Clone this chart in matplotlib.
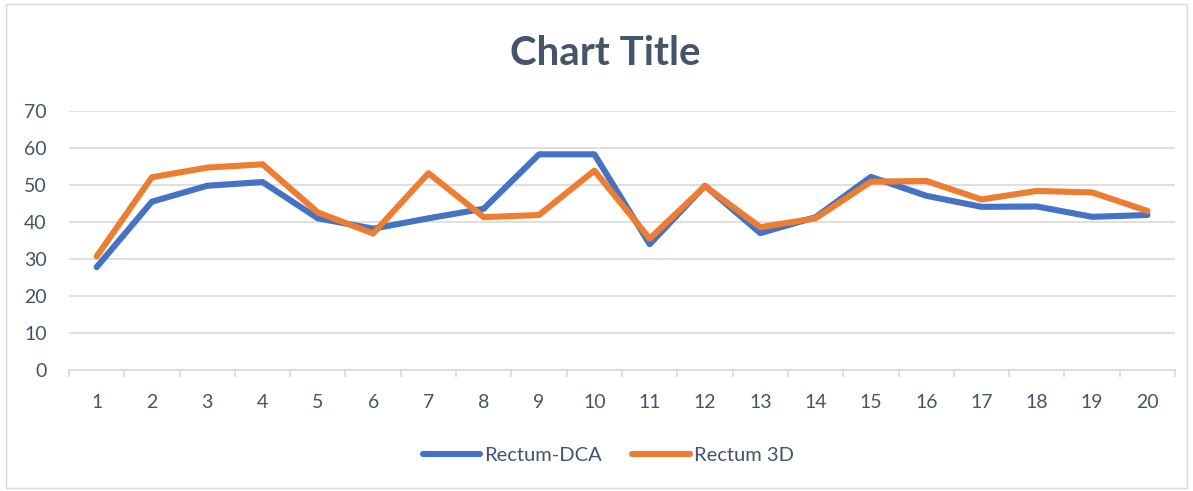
import matplotlib
matplotlib.use('Agg')
import matplotlib.pyplot as plt
from matplotlib.patches import Rectangle
import numpy as np

plt.rcParams['font.family'] = ['Lato', 'DejaVu Sans']

# data
categories = list(range(1, 21))
rectum_dca = [27.8, 45.5, 49.8, 50.8, 41.0, 38.2, 41.0, 43.6, 58.3, 58.3,
              34.0, 49.8, 37.0, 41.3, 52.2, 47.1, 44.1, 44.2, 41.4, 41.9]
rectum_3d = [30.7, 52.1, 54.7, 55.6, 42.6, 36.9, 53.2, 41.3, 41.9, 53.9,
             35.5, 49.7, 38.6, 41.0, 50.9, 51.1, 46.1, 48.4, 48.0, 43.0]
series_labels = ['Rectum-DCA', 'Rectum 3D']
y_ticks = [0, 10, 20, 30, 40, 50, 60, 70]

TEXT = '#44546A'
GRID = '#D9D9D9'

fig = plt.figure(figsize=(11.93, 4.91), dpi=100)
ax = fig.add_axes([0.0578, 0.2464, 0.9272, 0.5275])

x = np.arange(1, len(categories) + 1)
ax.plot(x, rectum_dca, color='#4472C4', lw=4.4, label=series_labels[0],
        solid_joinstyle='round', solid_capstyle='round', zorder=3)
ax.plot(x, rectum_3d, color='#ED7D31', lw=4.4, label=series_labels[1],
        solid_joinstyle='round', solid_capstyle='round', zorder=4)

ax.set_xlim(0.5, len(categories) + 0.5)
ax.set_ylim(0, 70)
ax.set_yticks(y_ticks)
ax.set_yticklabels([str(v) for v in y_ticks])
ax.set_xticks(x)
ax.set_xticklabels([str(c) for c in categories])
ax.set_xticks(np.arange(0.5, len(categories) + 1), minor=True)

ax.grid(axis='y', color=GRID, lw=1.2, zorder=0)
for s in ['top', 'right', 'left']:
    ax.spines[s].set_visible(False)
ax.spines['bottom'].set_color(GRID)
ax.spines['bottom'].set_linewidth(1.2)
ax.tick_params(axis='y', length=0, pad=16, labelsize=14, labelcolor=TEXT)
ax.tick_params(axis='x', which='major', length=0, pad=17, labelsize=14, labelcolor=TEXT)
ax.tick_params(axis='x', which='minor', length=5, width=1.2, color=GRID)

fig.text(0.507, 0.892, 'Chart Title', ha='center', va='center',
         fontsize=29, fontweight='bold', color=TEXT)

fig.legend(loc='center', bbox_to_anchor=(0.51, 0.073), ncol=2, frameon=False,
           fontsize=14.5, labelcolor=TEXT, handlelength=2.85, columnspacing=1.5,
           handletextpad=0.2)

# outer chart border
fig.patches.append(Rectangle((0.005, 0.006), 0.99, 0.985, transform=fig.transFigure,
                             fill=False, edgecolor=GRID, lw=1.0))

fig.savefig('out.png', dpi=100, facecolor='white')
